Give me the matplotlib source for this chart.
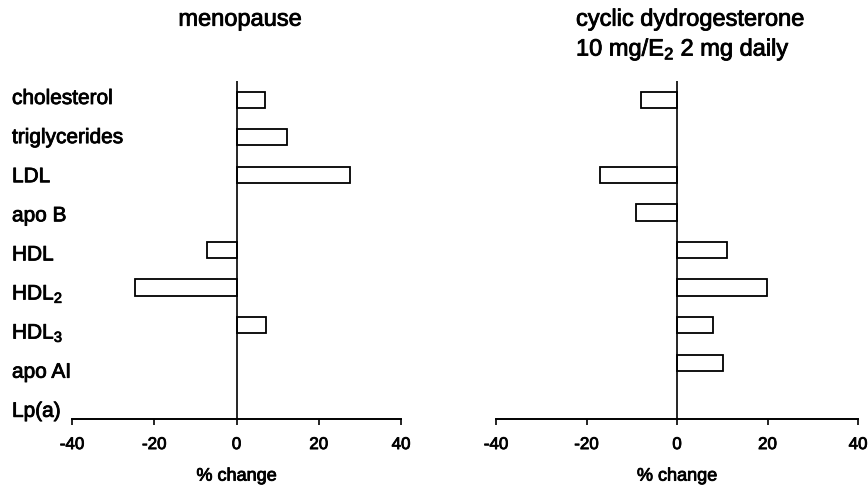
import numpy as np
import matplotlib
matplotlib.use("Agg")
import matplotlib.pyplot as plt
import matplotlib.patheffects as pe

plt.rcParams['font.family'] = ['Liberation Sans', 'DejaVu Sans']
plt.rcParams['mathtext.fontset'] = 'custom'
plt.rcParams['mathtext.rm'] = 'Liberation Sans'
plt.rcParams['mathtext.it'] = 'Liberation Sans:italic'

# lipid parameters, top to bottom
categories = ['cholesterol', 'triglycerides', 'LDL', 'apo B', 'HDL',
              'HDL$_2$', 'HDL$_3$', 'apo AI', 'Lp(a)']

# % change, nan = no bar drawn
menopause = [7.0, 12.3, 27.5, np.nan, -7.1, -24.6, 7.2, np.nan, np.nan]
dydrogesterone = [-8.0, np.nan, -17.0, -9.1, 11.1, 19.9, 8.0, 10.2, np.nan]

xticks = [-40, -20, 0, 20, 40]

titles = ['menopause', 'cyclic dydrogesterone', '10 mg/E$_2$ 2 mg daily']
xlabel = '% change'

# slightly heavier text, the scan looks thick
heavy = [pe.withStroke(linewidth=0.6, foreground='black')]


def draw_panel(ax, values):
    """
    Horizontal bar panel with a single zero line and bottom axis only.
    """
    y = np.arange(len(categories))
    vals = np.array(values, dtype=float)
    keep = ~np.isnan(vals)
    ax.barh(y[keep], vals[keep], height=0.43, color='white',
            edgecolor='black', linewidth=1.3, zorder=3)
    ax.axvline(0, color='black', linewidth=1.2, zorder=4)
    ax.set_xlim(-40, 40)
    ax.set_ylim(len(categories) - 0.5, -0.5)
    for side in ['top', 'right', 'left']:
        ax.spines[side].set_visible(False)
    ax.spines['bottom'].set_linewidth(1.4)
    ax.set_yticks([])
    ax.set_xticks(xticks)
    ax.set_xticklabels([str(t) for t in xticks], fontsize=12.2)
    for t in ax.get_xticklabels():
        t.set_path_effects(heavy)
    ax.tick_params(axis='x', direction='out', length=4, width=1.2, pad=9)
    ax.text(0.5, -0.169, xlabel, transform=ax.transAxes, fontsize=13,
            ha='center', va='center', path_effects=heavy)


fig = plt.figure(figsize=(8.68, 4.89), dpi=100)
W, H = 868.0, 489.0

ax1 = fig.add_axes([72 / W, 1 - 420 / H, 329 / W, 338 / H])
draw_panel(ax1, menopause)

ax2 = fig.add_axes([496 / W, 1 - 420 / H, 362 / W, 338 / H])
draw_panel(ax2, dydrogesterone)

# row labels, left aligned at the figure edge
for i, lab in enumerate(categories):
    base_px = 105 + 39.1 * i
    fig.text(12 / W, 1 - base_px / H, lab, fontsize=15,
             ha='left', va='baseline', path_effects=heavy)

# titles
fig.text(240 / W, 1 - 26.7 / H, titles[0], fontsize=17,
         ha='center', va='baseline', path_effects=heavy)
fig.text(576 / W, 1 - 26.7 / H, titles[1], fontsize=17,
         ha='left', va='baseline', path_effects=heavy)
fig.text(576 / W, 1 - 56.7 / H, titles[2], fontsize=17,
         ha='left', va='baseline', path_effects=heavy)

fig.savefig('out.png', dpi=100)
